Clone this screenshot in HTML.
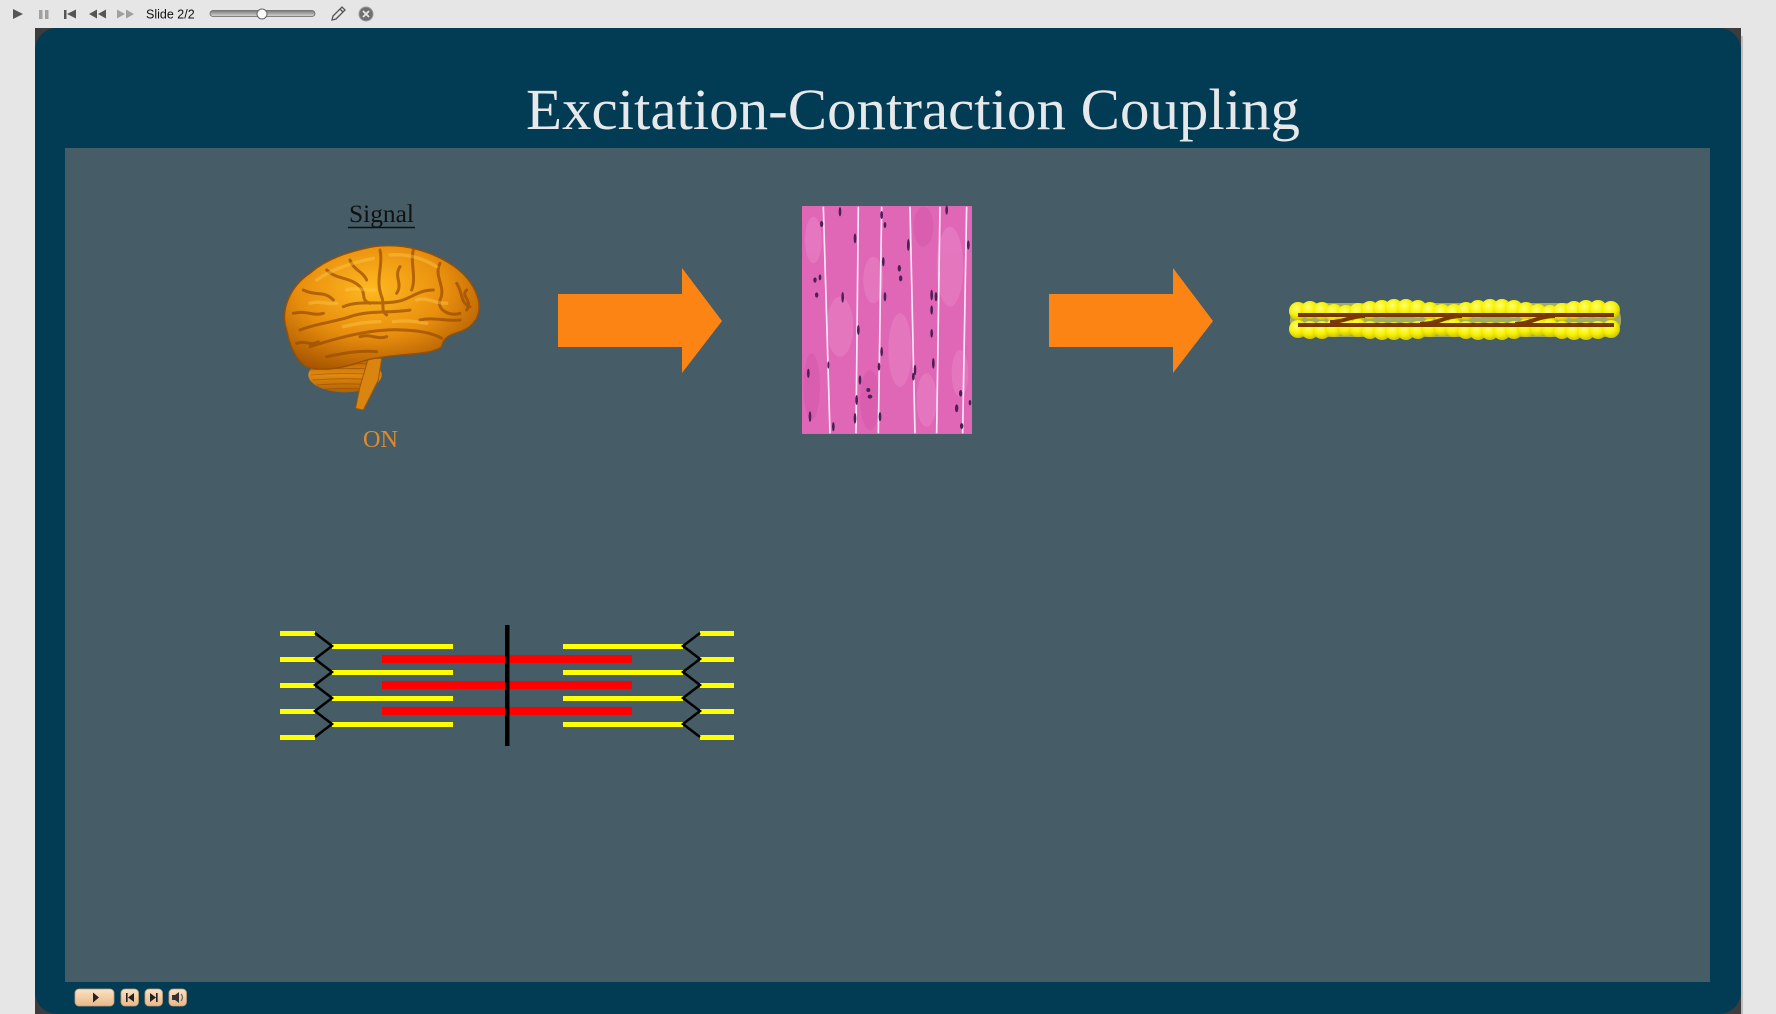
<!DOCTYPE html>
<html><head><meta charset="utf-8"><style>
html,body{margin:0;padding:0;width:1776px;height:1014px;overflow:hidden;background:#e6e6e6}
svg{position:absolute;left:0;top:0}
</style></head><body>
<svg width="1776" height="1014" viewBox="0 0 1776 1014" xmlns="http://www.w3.org/2000/svg">
<defs>
 <radialGradient id="brainG" cx="0.45" cy="0.35" r="0.7">
  <stop offset="0" stop-color="#ffb820"/>
  <stop offset="0.55" stop-color="#e88e0e"/>
  <stop offset="1" stop-color="#a85600"/>
 </radialGradient>
 <linearGradient id="cereG" x1="0" y1="0" x2="0" y2="1">
  <stop offset="0" stop-color="#b86000"/>
  <stop offset="0.5" stop-color="#e08a10"/>
  <stop offset="1" stop-color="#b06000"/>
 </linearGradient>
 <radialGradient id="bead" cx="0.4" cy="0.35" r="0.65">
  <stop offset="0" stop-color="#ffff70"/>
  <stop offset="0.6" stop-color="#f5f000"/>
  <stop offset="1" stop-color="#cfc400"/>
 </radialGradient>
 <linearGradient id="btnG" x1="0" y1="0" x2="0" y2="1">
  <stop offset="0" stop-color="#fbe2c4"/>
  <stop offset="1" stop-color="#e9b88a"/>
 </linearGradient>
 <linearGradient id="trackG" x1="0" y1="0" x2="0" y2="1">
  <stop offset="0" stop-color="#777"/>
  <stop offset="1" stop-color="#d8d8d8"/>
 </linearGradient>
 <pattern id="stri" width="6" height="3" patternUnits="userSpaceOnUse">
  <rect width="6" height="1" fill="#b04090" opacity="0.15"/>
 </pattern>
</defs>

<!-- toolbar -->
<rect x="0" y="0" width="1776" height="28" fill="#e6e6e6"/>
<polygon points="13,9 23,14 13,19" fill="#555"/>
<rect x="39" y="10" width="3.5" height="9" fill="#a0a0a0"/>
<rect x="45" y="10" width="3.5" height="9" fill="#a0a0a0"/>
<rect x="64" y="10" width="2.5" height="9" fill="#555"/>
<polygon points="76,9.5 67,14 76,18.5" fill="#555"/>
<polygon points="97,9.5 89,14 97,18.5" fill="#555"/>
<polygon points="106,9.5 98,14 106,18.5" fill="#555"/>
<polygon points="117,9.5 125,14 117,18.5" fill="#a0a0a0"/>
<polygon points="126,9.5 134,14 126,18.5" fill="#a0a0a0"/>
<text x="146" y="18.5" font-family="Liberation Sans, sans-serif" font-size="12.5" fill="#111">Slide 2/2</text>
<rect x="210" y="10.5" width="105" height="6" rx="3" fill="url(#trackG)" stroke="#666" stroke-width="0.8"/>
<circle cx="262" cy="14" r="5" fill="#fafafa" stroke="#666" stroke-width="1"/>
<g stroke="#555" stroke-width="1.3" fill="none">
 <path d="M332,20 L333,16 L342,7 L345,10 L336,19 Z"/>
 <line x1="340" y1="9" x2="343" y2="12"/>
</g>
<circle cx="366" cy="14" r="7" fill="#6f6f6f" stroke="#999" stroke-width="1"/>
<path d="M363,11 L369,17 M369,11 L363,17" stroke="#e6e6e6" stroke-width="1.8"/>

<!-- slide -->
<rect x="35" y="28" width="1706" height="986" fill="#3c3c3e"/>
<rect x="35" y="28" width="1706" height="986" rx="22" fill="#023b54"/>
<rect x="1741" y="36" width="2" height="978" fill="#bdbdbd"/>
<rect x="65" y="148" width="1645" height="834" fill="#465c67"/>

<!-- title -->
<text x="526" y="129" font-family="Liberation Serif, serif" font-size="58" fill="#e6e8ea" textLength="774" lengthAdjust="spacingAndGlyphs">Excitation-Contraction Coupling</text>

<!-- Signal -->
<text x="349" y="222" font-family="Liberation Serif, serif" font-size="25" fill="#111" textLength="65" lengthAdjust="spacingAndGlyphs">Signal</text>
<line x1="348" y1="227.5" x2="415" y2="227.5" stroke="#111" stroke-width="1.5"/>

<!-- brain -->
<g transform="translate(260,190) scale(0.3333)">
 <ellipse cx="255" cy="555" rx="110" ry="52" fill="url(#cereG)"/>
 <g stroke="#8a4800" stroke-width="2.5" fill="none" opacity="0.6">
  <path d="M155,525 Q255,515 360,525"/><path d="M150,540 Q255,530 362,540"/>
  <path d="M152,555 Q255,546 362,555"/><path d="M158,570 Q255,562 355,570"/>
  <path d="M170,585 Q255,578 340,585"/><path d="M190,598 Q255,593 320,598"/>
 </g>
 <path d="M325,505 L365,505 L355,570 L310,660 L287,655 L300,590 Z" fill="#d98510" stroke="#a05a00" stroke-width="3"/>
 <path d="M80,420 C60,360 90,290 150,250 C200,205 270,185 330,172 C400,160 460,170 520,195 C590,225 640,270 655,330 C665,380 640,410 600,425 C570,435 550,440 545,470 C520,490 470,490 420,495 C370,500 330,505 290,520 C240,535 180,545 140,530 C110,515 90,470 80,420 Z" fill="url(#brainG)" stroke="#9a5000" stroke-width="4"/>
 <g stroke="#9a4c00" stroke-width="9" fill="none" stroke-linecap="round" opacity="0.7">
  <path d="M150,470 C230,445 330,415 430,420 C480,422 520,430 545,445"/>
  <path d="M120,420 C170,400 230,395 270,380 C330,360 390,370 450,360"/>
  <path d="M250,350 C300,330 350,345 410,335 C450,330 470,300 520,300"/>
  <path d="M360,180 C370,230 345,270 365,320 C375,345 360,360 380,375"/>
  <path d="M460,180 C450,220 470,260 455,300"/>
  <path d="M200,240 C230,270 270,260 300,290 C320,310 300,330 330,340"/>
  <path d="M130,300 C170,320 190,300 220,330"/>
  <path d="M540,220 C520,260 560,290 540,330 C530,360 570,380 600,370"/>
  <path d="M590,280 C610,310 600,340 630,350"/>
  <path d="M100,370 C140,360 160,380 190,370"/>
  <path d="M270,210 C280,240 310,245 320,270"/>
  <path d="M420,230 C400,260 430,280 410,310"/>
  <path d="M480,390 C520,380 560,395 600,390"/>
  <path d="M200,500 C250,490 300,480 350,485"/>
  <path d="M110,460 C140,450 150,470 175,455"/>
  <path d="M620,300 C600,320 640,330 620,360"/>
  <path d="M300,440 C330,430 350,450 380,440"/>
 </g>
 <g stroke="#ffcc50" stroke-width="10" fill="none" stroke-linecap="round" opacity="0.4">
  <path d="M170,270 C220,235 290,215 340,205"/>
  <path d="M390,195 C440,190 490,205 530,230"/>
  <path d="M260,300 C300,290 320,305 345,300"/>
  <path d="M400,395 C440,390 470,395 500,400"/>
  <path d="M150,340 C180,330 200,345 230,340"/>
  <path d="M250,410 C290,400 330,395 360,395"/>
  <path d="M470,330 C500,320 520,340 560,340"/>
 </g>
</g>

<text x="363" y="447" font-family="Liberation Serif, serif" font-size="24" fill="#e08a2c" textLength="35" lengthAdjust="spacingAndGlyphs">ON</text>

<!-- arrows -->
<polygon points="558,294 682,294 682,268 722,321 682,373 682,347 558,347" fill="#fb8415"/>
<polygon points="1049,294 1173,294 1173,268 1213,321 1173,373 1173,347 1049,347" fill="#fb8415"/>

<!-- muscle histology -->
<g transform="translate(800,200) scale(0.3333)">
 <rect x="6" y="18" width="510" height="684" fill="#e268b8"/>
 <g fill="#f39ad3" opacity="0.35">
  <ellipse cx="120" cy="380" rx="40" ry="90"/>
  <ellipse cx="220" cy="240" rx="30" ry="70"/>
  <ellipse cx="300" cy="450" rx="35" ry="110"/>
  <ellipse cx="450" cy="200" rx="40" ry="120"/>
  <ellipse cx="380" cy="600" rx="30" ry="80"/>
  <ellipse cx="40" cy="120" rx="25" ry="70"/>
  <ellipse cx="480" cy="520" rx="25" ry="70"/>
 </g>
 <g fill="#cc4fa2" opacity="0.3">
  <ellipse cx="35" cy="560" rx="25" ry="100"/>
  <ellipse cx="210" cy="600" rx="30" ry="90"/>
  <ellipse cx="370" cy="80" rx="30" ry="60"/>
 </g>
 <rect x="6" y="18" width="510" height="684" fill="url(#stri)"/>
 <g stroke="#fff5ff" stroke-width="5" fill="none" opacity="0.9">
  <path d="M70,20 L90,700"/><path d="M175,20 L168,700"/><path d="M245,20 L235,700"/>
  <path d="M330,20 L345,700"/><path d="M420,20 L410,700"/><path d="M500,20 L488,700"/>
 </g>
 <g fill="#4d1f55">
  <ellipse cx="65" cy="72" rx="5" ry="9"/><ellipse cx="120" cy="35" rx="4" ry="14"/>
  <ellipse cx="165" cy="115" rx="4" ry="15"/><ellipse cx="245" cy="45" rx="4" ry="12"/>
  <ellipse cx="250" cy="185" rx="4" ry="14"/><ellipse cx="298" cy="205" rx="5" ry="10"/>
  <ellipse cx="302" cy="235" rx="5" ry="9"/><ellipse cx="45" cy="240" rx="5" ry="8"/>
  <ellipse cx="60" cy="232" rx="4" ry="9"/><ellipse cx="50" cy="285" rx="5" ry="8"/>
  <ellipse cx="128" cy="292" rx="4" ry="16"/><ellipse cx="255" cy="290" rx="4" ry="14"/>
  <ellipse cx="395" cy="285" rx="4" ry="16"/><ellipse cx="408" cy="290" rx="4" ry="14"/>
  <ellipse cx="395" cy="330" rx="4" ry="14"/><ellipse cx="395" cy="400" rx="4" ry="13"/>
  <ellipse cx="175" cy="390" rx="4" ry="15"/><ellipse cx="325" cy="135" rx="4" ry="18"/>
  <ellipse cx="440" cy="30" rx="4" ry="14"/><ellipse cx="505" cy="135" rx="4" ry="14"/>
  <ellipse cx="245" cy="455" rx="4" ry="14"/><ellipse cx="237" cy="500" rx="4" ry="12"/>
  <ellipse cx="180" cy="540" rx="4" ry="14"/><ellipse cx="205" cy="570" rx="6" ry="6"/>
  <ellipse cx="210" cy="590" rx="7" ry="6"/><ellipse cx="170" cy="600" rx="4" ry="15"/>
  <ellipse cx="345" cy="510" rx="4" ry="16"/><ellipse cx="340" cy="530" rx="4" ry="12"/>
  <ellipse cx="400" cy="490" rx="4" ry="16"/><ellipse cx="25" cy="520" rx="4" ry="14"/>
  <ellipse cx="30" cy="650" rx="4" ry="16"/><ellipse cx="482" cy="580" rx="5" ry="10"/>
  <ellipse cx="470" cy="625" rx="5" ry="12"/><ellipse cx="510" cy="608" rx="4" ry="8"/>
  <ellipse cx="485" cy="678" rx="5" ry="9"/><ellipse cx="165" cy="655" rx="4" ry="16"/>
  <ellipse cx="240" cy="650" rx="4" ry="14"/><ellipse cx="100" cy="680" rx="4" ry="14"/>
  <ellipse cx="255" cy="75" rx="4" ry="9"/><ellipse cx="85" cy="495" rx="3" ry="11"/>
 </g>
</g>

<!-- thin filament fiber -->
<rect x="1290" y="303" width="331" height="34" rx="16" fill="#eef060" opacity="0.55"/>
<g fill="url(#bead)">
 <circle cx="1298" cy="311" r="9"/><circle cx="1310" cy="310" r="9"/><circle cx="1322" cy="311" r="9"/>
 <circle cx="1334" cy="313" r="9"/><circle cx="1346" cy="314" r="9"/><circle cx="1358" cy="312" r="9"/>
 <circle cx="1370" cy="310" r="9"/><circle cx="1382" cy="309" r="9"/><circle cx="1394" cy="308" r="9"/>
 <circle cx="1406" cy="308" r="9"/><circle cx="1418" cy="309" r="9"/><circle cx="1430" cy="311" r="9"/>
 <circle cx="1442" cy="313" r="9"/><circle cx="1454" cy="313" r="9"/><circle cx="1466" cy="311" r="9"/>
 <circle cx="1478" cy="309" r="9"/><circle cx="1490" cy="308" r="9"/><circle cx="1502" cy="308" r="9"/>
 <circle cx="1514" cy="309" r="9"/><circle cx="1526" cy="311" r="9"/><circle cx="1538" cy="313" r="9"/>
 <circle cx="1550" cy="314" r="9"/><circle cx="1562" cy="312" r="9"/><circle cx="1574" cy="310" r="9"/>
 <circle cx="1586" cy="309" r="9"/><circle cx="1598" cy="309" r="9"/><circle cx="1611" cy="310" r="9"/>
</g>
<g fill="url(#bead)">
 <circle cx="1298" cy="329" r="9"/><circle cx="1310" cy="330" r="9"/><circle cx="1322" cy="330" r="9"/>
 <circle cx="1334" cy="328" r="9"/><circle cx="1346" cy="327" r="9"/><circle cx="1358" cy="328" r="9"/>
 <circle cx="1370" cy="330" r="9"/><circle cx="1382" cy="331" r="9"/><circle cx="1394" cy="331" r="9"/>
 <circle cx="1406" cy="331" r="9"/><circle cx="1418" cy="330" r="9"/><circle cx="1430" cy="328" r="9"/>
 <circle cx="1442" cy="327" r="9"/><circle cx="1454" cy="328" r="9"/><circle cx="1466" cy="330" r="9"/>
 <circle cx="1478" cy="331" r="9"/><circle cx="1490" cy="331" r="9"/><circle cx="1502" cy="331" r="9"/>
 <circle cx="1514" cy="330" r="9"/><circle cx="1526" cy="328" r="9"/><circle cx="1538" cy="327" r="9"/>
 <circle cx="1550" cy="328" r="9"/><circle cx="1562" cy="330" r="9"/><circle cx="1574" cy="331" r="9"/>
 <circle cx="1586" cy="331" r="9"/><circle cx="1598" cy="330" r="9"/><circle cx="1611" cy="329" r="9"/>
</g>
<g stroke="#7a3800" stroke-width="4" fill="none">
 <line x1="1298" y1="315" x2="1614" y2="315"/>
 <line x1="1298" y1="325" x2="1614" y2="325"/>
 <path d="M1330,322 C1345,322 1350,316 1365,316"/>
 <path d="M1420,324 C1438,324 1445,316 1462,316"/>
 <path d="M1515,324 C1530,324 1538,316 1555,316"/>
</g>

<!-- sarcomere -->
<g fill="#ffff00">
 <rect x="280" y="631" width="35" height="5"/><rect x="280" y="657" width="35" height="5"/>
 <rect x="280" y="683" width="35" height="5"/><rect x="280" y="709" width="35" height="5"/>
 <rect x="280" y="735" width="35" height="5"/>
 <rect x="332" y="644" width="121" height="5"/><rect x="332" y="670" width="121" height="5"/>
 <rect x="332" y="696" width="121" height="5"/><rect x="332" y="722" width="121" height="5"/>
 <rect x="563" y="644" width="120" height="5"/><rect x="563" y="670" width="120" height="5"/>
 <rect x="563" y="696" width="120" height="5"/><rect x="563" y="722" width="120" height="5"/>
 <rect x="700" y="631" width="34" height="5"/><rect x="700" y="657" width="34" height="5"/>
 <rect x="700" y="683" width="34" height="5"/><rect x="700" y="709" width="34" height="5"/>
 <rect x="700" y="735" width="34" height="5"/>
</g>
<g fill="#ff0000">
 <rect x="382" y="655" width="250" height="8"/>
 <rect x="382" y="681" width="250" height="8"/>
 <rect x="382" y="707" width="250" height="8"/>
</g>
<g stroke="#000" stroke-width="2.5" fill="none" stroke-linejoin="miter">
 <polyline points="315,633 332,646 315,659 332,672 315,685 332,698 315,711 332,724 315,737"/>
 <polyline points="700,633 683,646 700,659 683,672 700,685 683,698 700,711 683,724 700,737"/>
</g>
<rect x="505" y="625" width="4.5" height="121" fill="#000"/>

<!-- bottom controls -->
<rect x="75" y="989" width="39" height="17" rx="4" fill="url(#btnG)" stroke="#c89c70" stroke-width="0.8"/>
<polygon points="93,992.5 99,997.5 93,1002.5" fill="#222"/>
<rect x="121" y="989" width="17.5" height="17" rx="4" fill="url(#btnG)" stroke="#c89c70" stroke-width="0.8"/>
<rect x="126" y="993" width="1.6" height="9" fill="#222"/><polygon points="134,993 128,997.5 134,1002" fill="#222"/>
<rect x="145" y="989" width="17.5" height="17" rx="4" fill="url(#btnG)" stroke="#c89c70" stroke-width="0.8"/>
<polygon points="150,993 156,997.5 150,1002" fill="#222"/><rect x="156" y="993" width="1.6" height="9" fill="#222"/>
<rect x="169" y="989" width="17.5" height="17" rx="4" fill="url(#btnG)" stroke="#c89c70" stroke-width="0.8"/>
<polygon points="172,995 175,995 179,992 179,1003 175,1000 172,1000" fill="#333"/>
<path d="M181,994 Q184,997.5 181,1001" stroke="#666" stroke-width="1.2" fill="none"/>
</svg>
</body></html>
